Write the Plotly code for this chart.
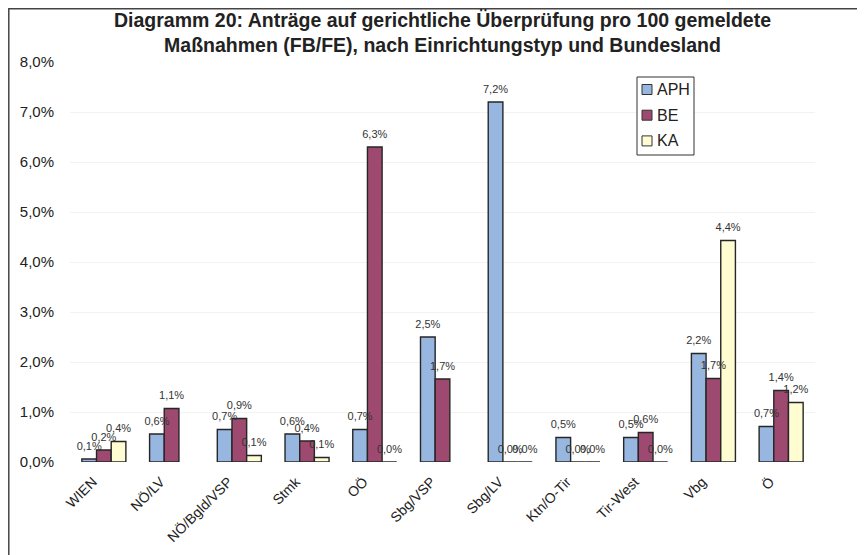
import plotly.graph_objects as go

categories = ["WIEN", "NÖ/LV", "NÖ/Bgld/VSP", "Stmk", "OÖ", "Sbg/VSP", "Sbg/LV",
              "Ktn/O-Tir", "Tir-West", "Vbg", "Ö"]
aph = [0.06, 0.56, 0.65, 0.56, 0.65, 2.5, 7.2, 0.49, 0.49, 2.17, 0.71]
be = [0.24, 1.07, 0.87, 0.42, 6.3, 1.66, 0.0, 0.0, 0.59, 1.67, 1.43]
ka = [0.41, None, 0.13, 0.09, 0.0, None, 0.0, 0.0, 0.0, 4.43, 1.19]
series = [("APH", aph, "#97B6E0"), ("BE", be, "#9E4A70"), ("KA", ka, "#FFFCD2")]
y_ticks = [0, 1, 2, 3, 4, 5, 6, 7, 8]

# the page body adds an 8px offset; lay out in page pixels and subtract it
OFF = 8
W, H = 865 - OFF, 555 - OFF
ML, MR, MT, MB = 70 - OFF, 50, 62 - OFF, 93
pw, ph = W - ML - MR, H - MT - MB
FONT = "Liberation Sans, Arial"
GAP = 0.35


def px_x(px):
    return (px - OFF - ML) / pw


def px_y(py):
    return (H - MB - (py - OFF)) / ph


def fmt(v):
    if v is None:
        return ""
    return f"{v:.1f}%".replace(".", ",")


fig = go.Figure()
for name, vals, col in series:
    fig.add_trace(go.Bar(
        name=name, x=categories, y=vals, offsetgroup=name,
        marker=dict(color=col, line=dict(color="#262626", width=1.4)),
        showlegend=False, hoverinfo="x+y",
    ))
for name, vals, col in series:
    fig.add_trace(go.Scatter(
        name=name + " label", x=categories, y=vals, offsetgroup=name,
        mode="markers+text", text=[fmt(v) for v in vals],
        textposition="top center",
        textfont=dict(family=FONT, size=11, color="#333333"),
        marker=dict(size=9, opacity=0, color=col),
        cliponaxis=False, showlegend=False, hoverinfo="skip",
    ))

shapes = [dict(type="rect", xref="paper", yref="paper",
               x0=px_x(8.8), x1=px_x(900), y0=px_y(600), y1=px_y(8.8),
               line=dict(color="#444444", width=1.5), fillcolor="rgba(0,0,0,0)",
               layer="below"),
          dict(type="rect", xref="paper", yref="paper",
               x0=px_x(637), x1=px_x(694), y0=px_y(155), y1=px_y(77),
               line=dict(color="#333333", width=1), fillcolor="white", layer="above")]
annotations = []
for i, (name, vals, col) in enumerate(series):
    cy = 89.5 + i * 25.7
    shapes.append(dict(type="rect", xref="paper", yref="paper",
                       x0=px_x(642), x1=px_x(652), y0=px_y(cy + 5), y1=px_y(cy - 5),
                       line=dict(color="#333333", width=1), fillcolor=col, layer="above"))
    annotations.append(dict(text=name, xref="paper", yref="paper",
                            x=px_x(655), y=px_y(cy), xanchor="left", yanchor="middle",
                            showarrow=False, font=dict(family=FONT, size=16, color="#222222")))

annotations.append(dict(
    text="<b>Diagramm 20: Anträge auf gerichtliche Überprüfung pro 100 gemeldete<br>"
         "Maßnahmen (FB/FE), nach Einrichtungstyp und Bundesland</b>",
    xref="paper", yref="paper", x=px_x(442), y=px_y(7),
    xanchor="center", yanchor="top", showarrow=False,
    font=dict(size=19.5, color="#222222", family=FONT),
))

fig.update_layout(
    width=W, height=H, margin=dict(l=ML, r=MR, t=MT, b=MB),
    paper_bgcolor="white", plot_bgcolor="white",
    barmode="group", bargap=GAP, bargroupgap=0,
    scattermode="group", scattergap=GAP,
    separators=",.",
    font=dict(family=FONT, color="#222222"),
    showlegend=False,
    xaxis=dict(tickangle=-45, tickfont=dict(size=14, color="#222222"),
               ticks="", ticklabelstandoff=8, ticklabelshift=-11,
               showline=False, showgrid=False, automargin=False),
    yaxis=dict(range=[0, 8], tickvals=y_ticks,
               ticktext=[f"{t},0%" for t in y_ticks],
               tickfont=dict(size=15, color="#222222"),
               ticks="outside", ticklen=12, tickcolor="rgba(0,0,0,0)",
               showgrid=True, gridcolor="#f2f2f2", gridwidth=1,
               zeroline=False, showline=False, automargin=False),
    annotations=annotations,
    shapes=shapes,
)

fig.write_html("out.html")
